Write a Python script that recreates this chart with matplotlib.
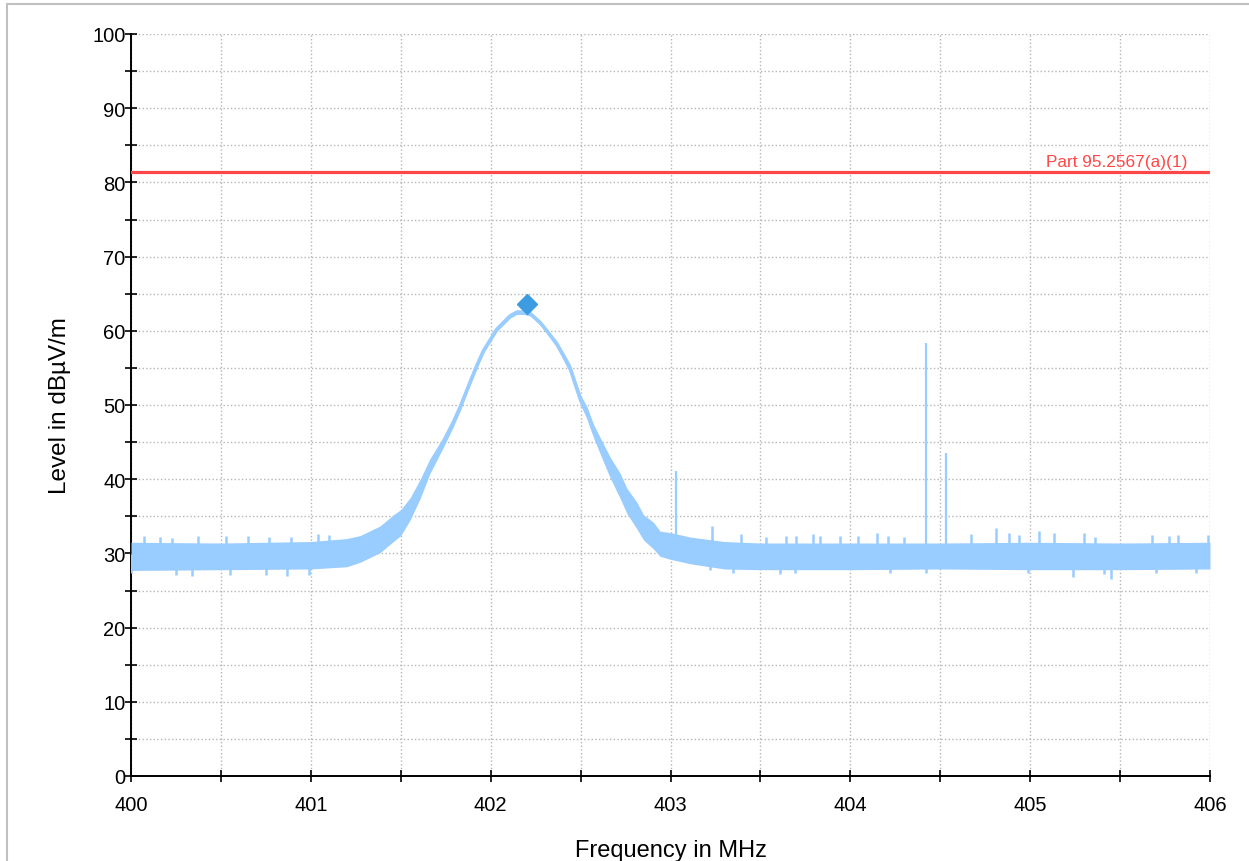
import numpy as np
import matplotlib
matplotlib.use("Agg")
import matplotlib.pyplot as plt
from matplotlib.patches import Rectangle
from matplotlib.ticker import MultipleLocator

plt.rcParams['font.family'] = ['Liberation Sans', 'DejaVu Sans']

# trace envelope (MHz, dBuV/m)
freq_env = [400.0, 400.5, 401.0, 401.2, 401.274, 401.385, 401.459, 401.5, 401.552, 401.608,
            401.663, 401.737, 401.793, 401.83, 401.886, 401.923, 401.96, 402.001, 402.034, 402.071,
            402.108, 402.145, 402.182, 402.22, 402.275, 402.312, 402.368, 402.405, 402.442, 402.501,
            402.535, 402.572, 402.609, 402.664, 402.72, 402.757, 402.813, 402.85, 402.905, 402.942,
            403.0, 403.11, 403.3, 403.5, 404.0, 404.5, 405.0, 405.5, 406.0]
level_low = [27.7, 27.8, 27.9, 28.2, 28.8, 30.1, 31.6, 32.4, 34.5, 37.4,
             40.8, 44.3, 47.1, 49.2, 52.7, 54.9, 57.0, 58.6, 59.9, 60.8,
             61.7, 62.2, 62.2, 62.0, 60.8, 59.7, 57.8, 56.1, 54.3, 49.9,
             48.2, 45.6, 43.4, 40.2, 37.4, 35.4, 33.3, 31.8, 30.6, 29.6,
             29.2, 28.6, 27.9, 27.8, 27.8, 27.9, 27.8, 27.8, 27.9]
level_high = [31.5, 31.4, 31.6, 32.0, 32.4, 33.7, 35.2, 35.9, 37.5, 40.0,
              42.8, 45.7, 48.3, 50.2, 53.5, 55.7, 57.6, 59.2, 60.5, 61.4,
              62.3, 62.8, 62.8, 62.6, 61.4, 60.3, 58.6, 57.1, 55.5, 51.3,
              49.8, 47.4, 45.6, 43.0, 40.8, 38.8, 36.9, 35.2, 34.2, 33.0,
              32.8, 32.2, 31.6, 31.4, 31.4, 31.4, 31.5, 31.4, 31.5]

# noise excursions above / below the band
peak_f = [400.07, 400.16, 400.23, 400.37, 400.53, 400.65, 400.77, 400.89, 401.04, 401.1,
          403.23, 403.39, 403.53, 403.64, 403.7, 403.79, 403.83, 403.94, 404.04, 404.15,
          404.21, 404.3, 404.67, 404.81, 404.88, 404.94, 405.05, 405.13, 405.3, 405.36,
          405.68, 405.77, 405.82, 405.99]
peak_l = [32.3, 32.2, 32.1, 32.4, 32.4, 32.3, 32.2, 32.2, 32.6, 32.5,
          33.7, 32.6, 32.2, 32.4, 32.4, 32.6, 32.3, 32.4, 32.3, 32.7,
          32.4, 32.2, 32.6, 33.4, 32.7, 32.5, 33.0, 32.8, 32.7, 32.2,
          32.5, 32.3, 32.5, 32.5]
dip_f = [400.0, 400.25, 400.34, 400.55, 400.75, 400.87, 400.99, 403.22, 403.35, 403.61,
         403.69, 404.22, 404.42, 404.99, 405.24, 405.41, 405.45, 405.7, 405.92]
dip_l = [27.3, 27.1, 27.0, 27.1, 27.1, 27.0, 27.1, 27.7, 27.3, 27.2,
         27.3, 27.3, 27.4, 27.3, 26.8, 27.2, 26.6, 27.3, 27.4]

# discrete spurs
spur_f = [403.03, 404.42, 404.53]
spur_l = [41.1, 58.4, 43.5]

# peak marker and limit line
marker_f = 402.2
marker_l = 63.6
limit_level = 81.4
limit_name = "Part 95.2567(a)(1)"

trace_col = '#99ccff'
red = '#ff4747'

fig = plt.figure(figsize=(12.49, 8.62), dpi=100)
ax = fig.add_axes([131 / 1249, 1 - 777 / 862, (1210 - 131) / 1249, (777 - 35) / 862])

# trace
mid = (np.array(level_low) + np.array(level_high)) / 2
ax.fill_between(freq_env, level_low, level_high, color=trace_col, lw=0, zorder=3)
ax.plot(freq_env, mid, color=trace_col, lw=2.6, zorder=3, solid_joinstyle='round')
ax.vlines(peak_f, np.interp(peak_f, freq_env, mid), peak_l, color=trace_col, lw=1.8, zorder=3)
ax.vlines(dip_f, dip_l, np.interp(dip_f, freq_env, mid), color=trace_col, lw=1.8, zorder=3)
ax.vlines(spur_f, np.interp(spur_f, freq_env, mid), spur_l, color=trace_col, lw=1.6, zorder=3)

# limit line
ax.axhline(limit_level, color=red, lw=2.3, zorder=4)
ax.text(405.873, 82.2, limit_name, color=red, fontsize=12.4, ha='right', va='baseline')

# marker
ax.plot([marker_f], [marker_l], marker='D', ms=10, color='#3d9be0', zorder=5)

ax.set_xlim(400, 406)
ax.set_ylim(0, 100)
ax.xaxis.set_major_locator(MultipleLocator(1))
ax.xaxis.set_minor_locator(MultipleLocator(0.5))
ax.yaxis.set_major_locator(MultipleLocator(10))
ax.yaxis.set_minor_locator(MultipleLocator(5))
ax.grid(True, which='both', linestyle=':', color='#b5b5b5', lw=1.0, zorder=0)
ax.set_axisbelow(True)

for s in ['top', 'right']:
    ax.spines[s].set_visible(False)
for s in ['left', 'bottom']:
    ax.spines[s].set_linewidth(1.4)
    ax.spines[s].set_color('black')

ax.tick_params(axis='both', which='both', direction='inout', length=8, width=1.2, labelsize=14.5)
ax.tick_params(axis='y', which='both', pad=0)
ax.tick_params(axis='x', which='both', pad=10)

ax.set_xlabel("Frequency in MHz", fontsize=17, labelpad=18)
ax.set_ylabel("Level in dBµV/m", fontsize=17.5, labelpad=15)

# outer frame
fig.patches.append(Rectangle((7 / 1249, -0.1), 2, 1.1 - 5 / 862, transform=fig.transFigure,
                             fill=False, ec='#c0c0c0', lw=1.5))

fig.savefig("out.png", dpi=100)
